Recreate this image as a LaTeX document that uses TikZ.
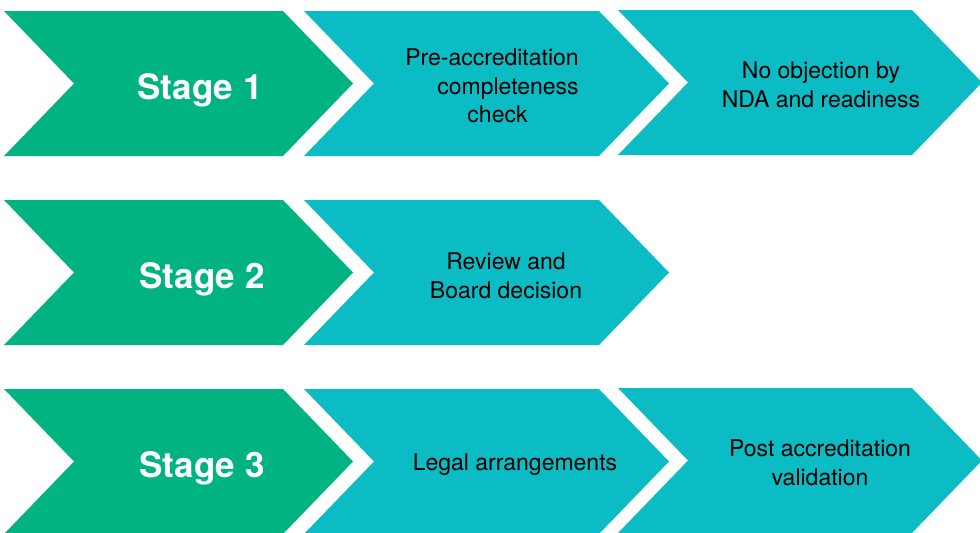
\documentclass[tikz,border=0pt]{standalone}
\usepackage{fontspec}
\setmainfont{TeX Gyre Heros}
\usepackage{tikz}
\usetikzlibrary{calc}
\definecolor{stagegreen}{RGB}{2,179,130}
\definecolor{stepteal}{RGB}{11,188,197}
% chevron: left x, corner x, top y, colour
\newcommand{\chev}[4]{%
  \fill[#4] (#1,#3) -- (#2,#3) -- ++(70,72.5) -- ++(-70,72.5)
    -- ++({#1-#2},0) -- ++(70,-72.5) -- cycle;}

\begin{document}
\begin{tikzpicture}[x=0.5pt,y=-0.5pt,
    stagetext/.style={text=white,font=\fontsize{17.5}{21}\selectfont\bfseries},
    steptext/.style={text=black,font=\fontsize{11.5}{14.25}\selectfont}]
      \useasboundingbox (0,0) rectangle (980,532);
      % row 1
      \chev{4}{283}{11}{stagegreen}
      \chev{304}{599}{11}{stepteal}
      \chev{618}{912}{10}{stepteal}
      \node[stagetext] (stage1) at (200,90) {Stage 1};
      \node[steptext,align=right] (precheck) at (492,86)
        {Pre-accreditation\\completeness\\check\hspace*{25.5pt}};
      \node[steptext,align=center] (noobj) at (821,85)
        {No objection by\\NDA and readiness};
      % row 2
      \chev{4}{283}{200}{stagegreen}
      \chev{304}{599}{200}{stepteal}
      \node[stagetext] (stage2) at (202,279) {Stage 2};
      \node[steptext,align=center] (review) at (506,276)
        {Review and\\Board decision};
      % row 3
      \chev{4}{283}{389}{stagegreen}
      \chev{304}{599}{389}{stepteal}
      \chev{618}{912}{388}{stepteal}
      \node[stagetext] (stage3) at (202,468) {Stage 3};
      \node[steptext] (legal) at (515,465) {Legal arrangements};
      \node[steptext,align=center] (postval) at (820,463)
        {Post accreditation\\validation};
    \end{tikzpicture}
\end{document}
